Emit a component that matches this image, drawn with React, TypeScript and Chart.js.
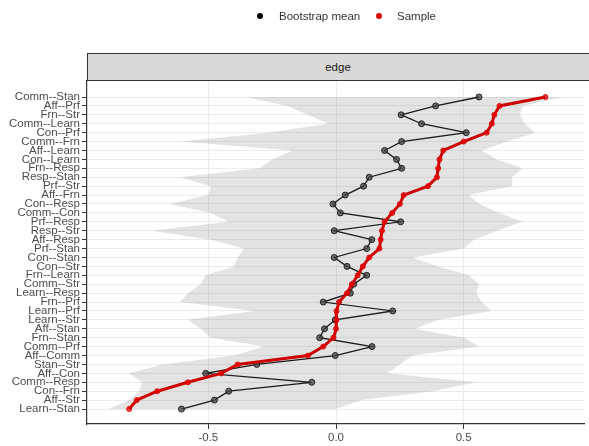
import React, { useEffect, useRef } from "react";
import { Chart, registerables } from "chart.js";

Chart.register(...registerables);

const edgeLabels = [
  "Comm--Stan", "Aff--Prf", "Frn--Str", "Comm--Learn", "Con--Prf", "Comm--Frn",
  "Aff--Learn", "Con--Learn", "Frn--Resp", "Resp--Stan", "Prf--Str", "Aff--Frn",
  "Con--Resp", "Comm--Con", "Prf--Resp", "Resp--Str", "Aff--Resp", "Prf--Stan",
  "Con--Stan", "Con--Str", "Frn--Learn", "Comm--Str", "Learn--Resp", "Frn--Prf",
  "Learn--Prf", "Learn--Str", "Aff--Stan", "Frn--Stan", "Comm--Prf", "Aff--Comm",
  "Stan--Str", "Aff--Con", "Comm--Resp", "Con--Frn", "Aff--Str", "Learn--Stan",
];

const sampleValues = [
  0.82, 0.64, 0.62, 0.61, 0.59, 0.5, 0.42, 0.405, 0.4, 0.395, 0.36, 0.265,
  0.25, 0.22, 0.19, 0.18, 0.175, 0.17, 0.13, 0.105, 0.085, 0.062, 0.043, 0.012,
  0.002, 0.002, 0.0, -0.01, -0.05, -0.11, -0.385, -0.45, -0.58, -0.7, -0.78, -0.81,
];

const bootMeanValues = [
  0.56, 0.39, 0.255, 0.335, 0.51, 0.257, 0.19, 0.237, 0.257, 0.13, 0.108, 0.036,
  -0.012, 0.017, 0.253, -0.007, 0.14, 0.12, -0.007, 0.043, 0.12, 0.069, 0.056, -0.05,
  0.222, -0.003, -0.045, -0.064, 0.141, -0.003, -0.31, -0.51, -0.095, -0.42, -0.476, -0.605,
];

const ciLower = [
  -0.355, -0.19, -0.11, -0.03, -0.265, -0.61, -0.17, -0.25, -0.3, -0.61, -0.49, -0.5,
  -0.65, -0.49, -0.42, -0.72, -0.49, -0.36, -0.385, -0.4, -0.51, -0.53, -0.58, -0.61,
  -0.32, -0.58, -0.53, -0.49, -0.28, -0.4, -0.68, -0.81, -0.76, -0.77, -0.81, -0.89,
];

const ciUpper = [
  0.89, 0.73, 0.72, 0.74, 0.78, 0.67, 0.57, 0.63, 0.73, 0.69, 0.69, 0.52,
  0.56, 0.64, 0.73, 0.63, 0.54, 0.5, 0.3, 0.4, 0.52, 0.56, 0.55, 0.57,
  0.61, 0.4, 0.31, 0.5, 0.56, 0.3, 0.25, 0.2, 0.55, 0.38, 0.1, 0.0,
];

const xTickValues = [-0.5, 0, 0.5];

const FONT = "'Liberation Sans', Arial, Helvetica, sans-serif";

const toPoints = (vals: number[]) => vals.map((v, i) => ({ x: v, y: i + 1 }));

export default function App() {
  const canvasRef = useRef<HTMLCanvasElement | null>(null);

  useEffect(() => {
    const canvas = canvasRef.current;
    if (!canvas) return;
    const chart = new Chart(canvas, {
      type: "line",
      data: {
        datasets: [
          {
            label: "Sample",
            data: toPoints(sampleValues),
            borderColor: "#cc0000",
            borderWidth: 3,
            pointRadius: 2.5,
            pointBackgroundColor: "rgba(230,0,0,0.7)",
            pointBorderColor: "rgba(220,0,0,0.9)",
            pointBorderWidth: 1,
            fill: false,
            tension: 0,
          },
          {
            label: "Bootstrap mean",
            data: toPoints(bootMeanValues),
            borderColor: "#1a1a1a",
            borderWidth: 1.3,
            pointRadius: 3,
            pointBackgroundColor: "rgba(70,70,70,0.75)",
            pointBorderColor: "#222222",
            pointBorderWidth: 1,
            fill: false,
            tension: 0,
          },
          {
            label: "upper",
            data: toPoints(ciUpper),
            borderWidth: 0,
            borderColor: "rgba(0,0,0,0)",
            pointRadius: 0,
            backgroundColor: "rgba(150,150,150,0.27)",
            fill: "+1",
            tension: 0,
          },
          {
            label: "lower",
            data: toPoints(ciLower),
            borderWidth: 0,
            borderColor: "rgba(0,0,0,0)",
            pointRadius: 0,
            fill: false,
            tension: 0,
          },
        ],
      },
      options: {
        indexAxis: "y",
        responsive: false,
        animation: false,
        devicePixelRatio: 1,
        layout: { padding: { top: 81, left: 0, right: 0, bottom: 0 } },
        plugins: {
          legend: { display: false },
          tooltip: { enabled: false },
          title: { display: false },
        },
        scales: {
          x: {
            type: "linear",
            position: "bottom",
            min: -0.975,
            max: 0.971,
            afterBuildTicks: (scale: any) => {
              scale.ticks = xTickValues.map((v) => ({ value: v }));
            },
            afterFit: (scale: any) => {
              scale.height = 22;
            },
            ticks: {
              autoSkip: false,
              maxRotation: 0,
              padding: 2,
              color: "#4d4d4d",
              font: { family: FONT, size: 11.5 },
              callback: (v: any) => Number(v).toFixed(1),
            },
            grid: {
              color: "#ebebeb",
              lineWidth: 1,
              tickLength: 5,
              tickColor: "#333333",
              tickWidth: 1,
            },
            border: { color: "#333333", width: 1.2 },
          },
          y: {
            type: "linear",
            position: "left",
            reverse: true,
            min: -0.795,
            max: 37.68,
            afterBuildTicks: (scale: any) => {
              scale.ticks = edgeLabels.map((_, i) => ({ value: i + 1 }));
            },
            afterFit: (scale: any) => {
              scale.width = 87;
            },
            ticks: {
              autoSkip: false,
              padding: 2,
              color: "#4d4d4d",
              font: { family: FONT, size: 11.5 },
              callback: (v: any) => edgeLabels[Math.round(Number(v)) - 1],
            },
            grid: {
              color: "#ebebeb",
              lineWidth: 1,
              tickLength: 5,
              tickColor: "#333333",
              tickWidth: 1,
            },
            border: { color: "#333333", width: 1.2 },
          },
        },
      },
    } as any);
    return () => chart.destroy();
  }, []);

  const textStyle: React.CSSProperties = {
    position: "absolute",
    top: 9,
    fontSize: 11.5,
    lineHeight: "14px",
    color: "#333333",
    fontFamily: FONT,
    whiteSpace: "nowrap",
  };
  const dot = (left: number, color: string): React.CSSProperties => ({
    position: "absolute",
    left: left - 3,
    top: 13,
    width: 6,
    height: 6,
    borderRadius: "50%",
    background: color,
  });

  return (
    <div
      style={{
        position: "absolute",
        left: 0,
        top: 0,
        width: 589,
        height: 446,
        background: "#ffffff",
        overflow: "hidden",
        fontFamily: FONT,
      }}
    >
      <canvas
        ref={canvasRef}
        width={589}
        height={446}
        style={{ position: "absolute", left: 0, top: 0, width: 589, height: 446 }}
      />
      <div style={dot(260, "#000000")} />
      <div style={{ ...textStyle, left: 279 }}>Bootstrap mean</div>
      <div style={dot(379, "#dd0000")} />
      <div style={{ ...textStyle, left: 397 }}>Sample</div>
      <div
        style={{
          position: "absolute",
          left: 87,
          top: 53,
          width: 510,
          height: 26,
          background: "#d9d9d9",
          borderTop: "1px solid #333333",
          borderBottom: "1px solid #333333",
          borderLeft: "1px solid #333333",
          display: "flex",
          alignItems: "center",
          justifyContent: "center",
          boxSizing: "content-box",
        }}
      >
        <span
          style={{
            fontSize: 11.5,
            color: "#1a1a1a",
            fontFamily: FONT,
            marginLeft: -10,
          }}
        >
          edge
        </span>
      </div>
    </div>
  );
}
